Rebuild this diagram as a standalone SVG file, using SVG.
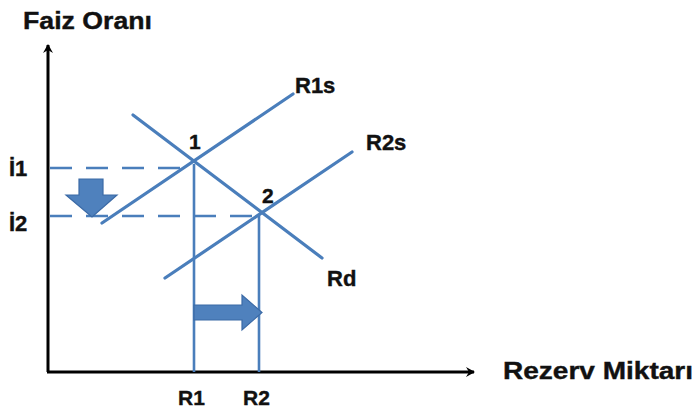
<svg xmlns="http://www.w3.org/2000/svg" width="697" height="411" viewBox="0 0 697 411">
<style>
.t{font-family:"Liberation Sans",Arial,sans-serif;font-weight:bold;fill:#111;stroke:#111;stroke-width:0.4;}
.ax{stroke:#000;stroke-width:3;fill:none;}
.ln{stroke:#4a7ebb;stroke-width:3.2;fill:none;stroke-linecap:round;}
.vl{stroke:#4a7ebb;stroke-width:2.6;fill:none;}
.dl{stroke:#4a7ebb;stroke-width:2.4;fill:none;stroke-dasharray:22 14;}
.ba{fill:#4f81bd;stroke:#3b6aa6;stroke-width:1.2;}
</style>
<defs>
<marker id="ah" markerWidth="10" markerHeight="10" refX="8" refY="5" orient="auto" markerUnits="userSpaceOnUse">
<path d="M0,0 L9,5 L0,10 L3,5 Z" fill="#000"/>
</marker>
</defs>
<g id="axes">
<line class="ax" x1="48" y1="372" x2="48" y2="45" marker-end="url(#ah)"/>
<line class="ax" x1="47" y1="372" x2="474" y2="372" marker-end="url(#ah)"/>
<text class="t" x="23" y="29" font-size="24" textLength="129" lengthAdjust="spacingAndGlyphs">Faiz Oranı</text>
<text class="t" x="503" y="379" font-size="24" textLength="190" lengthAdjust="spacingAndGlyphs">Rezerv Miktarı</text>
</g>
<g id="connectors">
<line class="dl" x1="50" y1="168" x2="192" y2="168"/>
<line class="dl" x1="50" y1="216" x2="260" y2="216"/>
<line class="vl" x1="194" y1="164" x2="194" y2="372"/>
<line class="vl" x1="259" y1="214" x2="259" y2="372"/>
</g>
<g id="R1s">
<line class="ln" x1="102" y1="223" x2="293" y2="94"/>
<text class="t" x="295" y="93" font-size="22">R1s</text>
</g>
<g id="R2s">
<line class="ln" x1="165" y1="278" x2="352" y2="152"/>
<text class="t" x="366" y="150" font-size="22">R2s</text>
</g>
<g id="Rd">
<line class="ln" x1="133" y1="115" x2="322" y2="258"/>
<text class="t" x="327" y="286" font-size="22">Rd</text>
</g>
<g id="point1">
<text class="t" x="189" y="149" font-size="21">1</text>
</g>
<g id="point2">
<text class="t" x="262" y="203" font-size="21">2</text>
</g>
<g id="i1">
<text class="t" x="9" y="176" font-size="22">İ1</text>
</g>
<g id="i2">
<text class="t" x="9" y="231" font-size="22">İ2</text>
</g>
<g id="R1">
<text class="t" x="178" y="405" font-size="21">R1</text>
</g>
<g id="R2">
<text class="t" x="243" y="405" font-size="21">R2</text>
</g>
<g id="downArrow">
<path class="ba" d="M79,179 L103,179 L103,195 L117,195 L92,217 L66,195 L79,195 Z"/>
</g>
<g id="rightArrow">
<path class="ba" d="M194,305 L242,305 L242,295 L262,312.5 L242,330 L242,320 L194,320 Z"/>
</g>
</svg>
